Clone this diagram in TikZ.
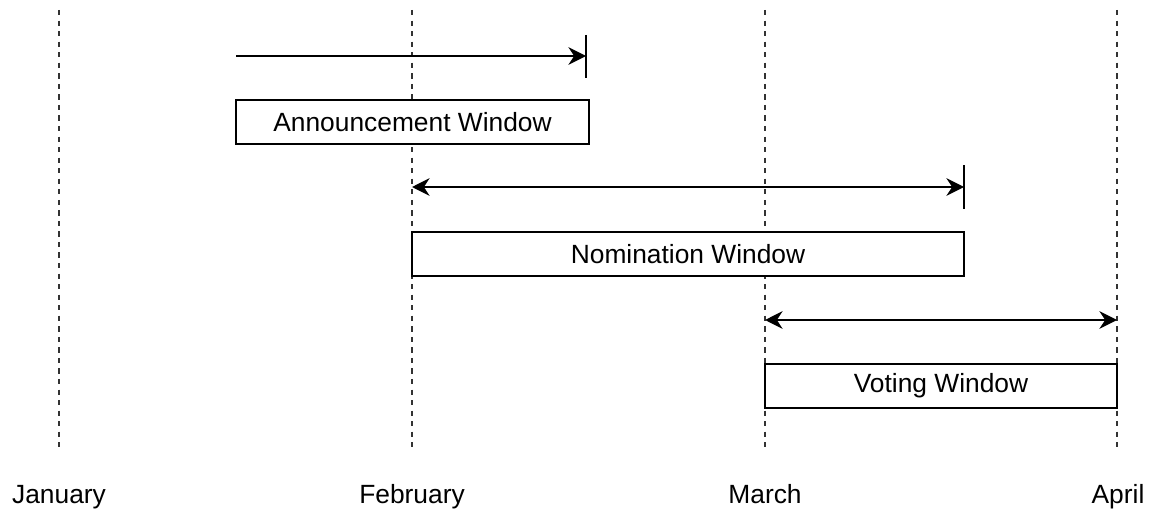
\documentclass[tikz,border=0pt]{standalone}
\usepackage{fontspec}
\setmainfont{Liberation Sans}
\usetikzlibrary{arrows.meta}

\tikzset{
    monthline/.style={line width=0.7pt, dash pattern=on 3pt off 3pt, black!80},
    winbox/.style={draw, line width=1pt, fill=white, minimum height=0.88cm, inner sep=0pt, font=\fontsize{15}{18}\selectfont},
    span/.style={line width=1pt, {Stealth[length=10pt, width=10pt]}-{Stealth[length=10pt, width=10pt]}},
    spanend/.style={line width=1pt, -{Stealth[length=10pt, width=10pt]}},
    month/.style={anchor=base, font=\fontsize{15}{18}\selectfont}
}

\begin{document}
\begin{tikzpicture}[x=0.02cm, y=-0.02cm]
    \useasboundingbox (0,0) rectangle (1152,517);
    % months
    \node[month] (jan) at (59,503) {January};
    \node[month] (feb) at (412,503) {February};
    \node[month] (mar) at (765,503) {March};
    \node[month] (apr) at (1118,503) {April};
    \coordinate (jantop) at (59,10);  \coordinate (janbot) at (59,452);
    \coordinate (febtop) at (412,10); \coordinate (febbot) at (412,452);
    \coordinate (martop) at (765,10); \coordinate (marbot) at (765,452);
    \coordinate (aprtop) at (1117,10); \coordinate (aprbot) at (1117,452);
    \draw[monthline] (jantop) -- (janbot);
    \draw[monthline] (febtop) -- (febbot);
    \draw[monthline] (martop) -- (marbot);
    \draw[monthline] (aprtop) -- (aprbot);

    % announcement
    \node[winbox, minimum width=7.06cm] (announce) at (412.5,122) {Announcement Window};
    \coordinate (annstart) at (236,56);
    \coordinate (annend) at (586,56);
    \draw[spanend] (annstart) -- (annend);
    \draw[line width=1pt] (586,35) -- (586,78);

    % nomination
    \node[winbox, minimum width=11.04cm] (nominate) at (688,254) {Nomination Window};
    \coordinate (nomstart) at (412,187);
    \coordinate (nomend) at (964,187);
    \draw[span] (nomstart) -- (nomend);
    \draw[line width=1pt] (964,165) -- (964,209);

    % voting
    \node[winbox, minimum width=7.04cm] (vote) at (941,386) {Voting Window};
    \coordinate (votestart) at (765,320);
    \coordinate (voteend) at (1117,320);
    \draw[span] (votestart) -- (voteend);
\end{tikzpicture}
\end{document}
